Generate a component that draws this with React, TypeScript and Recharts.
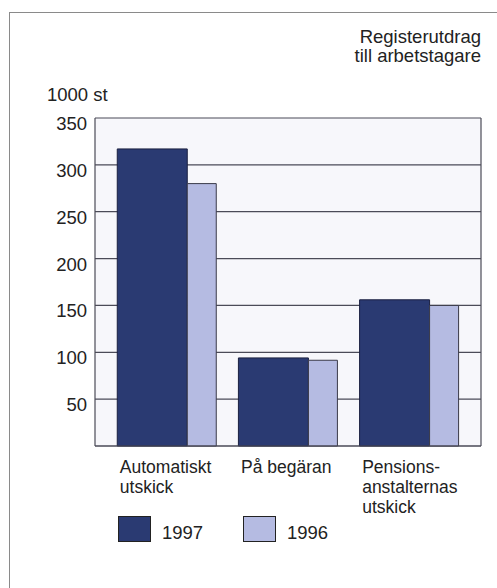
import React from "react";
import { BarChart, Bar, XAxis, YAxis, CartesianGrid } from "recharts";

const categories = ["Automatiskt\nutskick", "På begäran", "Pensions-\nanstalternas\nutskick"];
const values1997 = [317, 94, 156];
const values1996 = [280, 91.5, 150];
const yTicks = [50, 100, 150, 200, 250, 300, 350];
const seriesNames = ["1997", "1996"];
const seriesColors = ["#2a3a72", "#b5bbe2"];
const titleLines = ["Registerutdrag", "till arbetstagare"];
const unitLabel = "1000 st";

const data = categories.map((c, i) => ({ cat: c, y1997: values1997[i], y1996: values1996[i] }));

const FONT = '"Liberation Sans", Arial, Helvetica, sans-serif';
const FS = 18.5;
const XFS = 17.5;
const TXT = "#222";

const YTick = (props: any) => {
  const { x, y, payload } = props;
  return (
    <text x={x} y={y + 12} textAnchor="end" fontFamily={FONT} fontSize={FS} fill={TXT}>
      {payload.value}
    </text>
  );
};

const XTick = (props: any) => {
  const { x, y, payload } = props;
  const lines = String(payload.value).split("\n");
  return (
    <text x={x - 47} y={y + 27} textAnchor="start" fontFamily={FONT} fontSize={XFS} fill={TXT}>
      {lines.map((l, i) => (
        <tspan key={i} x={x - 47} dy={i === 0 ? 0 : 20.2}>
          {l}
        </tspan>
      ))}
    </text>
  );
};

export default function App() {
  return (
    <div style={{ position: "absolute", left: 0, top: 0, width: 497, height: 588, background: "#fff", fontFamily: FONT, color: TXT }}>
      <div style={{ position: "absolute", left: 9, top: 12, width: 488, height: 576, borderLeft: "1.5px solid #8a8a8a", borderTop: "1.5px solid #8a8a8a" }} />
      <div style={{ position: "absolute", right: 16, top: 27, textAlign: "right", fontSize: FS, lineHeight: "19px" }}>
        {titleLines.map((t, i) => (
          <div key={i}>{t}</div>
        ))}
      </div>
      <div style={{ position: "absolute", left: 47, top: 84, fontSize: FS, lineHeight: "21px" }}>{unitLabel}</div>
      <div style={{ position: "absolute", left: 0, top: 0 }}>
        <BarChart width={497} height={588} data={data} margin={{ top: 118, right: 0, left: 0, bottom: 82 }} barGap={0}>
          <CartesianGrid yAxisId="l" vertical={false} stroke="#4b4b58" strokeWidth={1.2} fill="#f7f7fb" />
          <XAxis
            dataKey="cat"
            height={60}
            padding={{ left: 11.25, right: 11.25 }}
            axisLine={{ stroke: "#4b4b58", strokeWidth: 1.2 }}
            tickLine={false}
            tickSize={0}
            tickMargin={0}
            tick={<XTick />}
            interval={0}
          />
          <YAxis
            yAxisId="l"
            width={95}
            domain={[0, 350]}
            ticks={yTicks}
            axisLine={{ stroke: "#4b4b58", strokeWidth: 1.2 }}
            tickLine={false}
            tick={<YTick />}
            interval={0}
          />
          <YAxis
            yAxisId="r"
            orientation="right"
            width={16}
            domain={[0, 350]}
            ticks={yTicks}
            axisLine={{ stroke: "#4b4b58", strokeWidth: 1.2 }}
            tickLine={false}
            tick={false}
          />
          <Bar yAxisId="l" dataKey="y1997" barSize={70} fill={seriesColors[0]} stroke="#1b2040" strokeWidth={1} isAnimationActive={false} />
          <Bar yAxisId="l" dataKey="y1996" barSize={29} fill={seriesColors[1]} stroke="#3a3a48" strokeWidth={1} isAnimationActive={false} />
        </BarChart>
      </div>
      {seriesNames.map((n, i) => (
        <div key={n} style={{ position: "absolute", left: 118 + i * 125, top: 516, display: "flex", alignItems: "flex-start" }}>
          <div style={{ width: 31, height: 24, background: seriesColors[i], border: "1px solid #222" }} />
          <div style={{ marginLeft: 11, marginTop: 6, fontSize: FS, lineHeight: "22px" }}>{n}</div>
        </div>
      ))}
    </div>
  );
}
